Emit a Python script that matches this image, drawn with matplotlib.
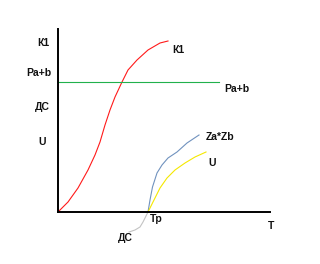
import matplotlib
matplotlib.use("Agg")
import matplotlib.pyplot as plt

# Curves (x = T offset, y = value)
k1_x = [0, 10, 20, 30, 37, 42, 47, 52, 57, 64, 70, 79, 90, 102, 110]
k1_y = [0, 10, 24, 42, 57, 70, 87, 102, 115, 130, 142, 152, 162, 169, 171]

pab_x = [0, 161]
pab_y = [130, 130]

zab_x = [90, 92, 94.5, 99, 104, 110, 119, 129, 141]
zab_y = [0, 12, 25, 39, 47, 54, 60, 69, 77]

u_x = [90, 95, 102, 109, 117, 127, 137, 148]
u_y = [0, 10, 24, 34, 42, 49, 55, 60]

dc_x = [90, 85, 82, 77, 71]
dc_y = [0, -10, -15, -18, -20]

left_labels = ["К1", "Pa+b", "ДС", "U"]
left_label_pos = [(-21, 169), (-32, 139), (-23, 105), (-20, 70)]

curve_labels = ["К1", "Pa+b", "Za*Zb", "U", "Tp", "ДС", "T"]
curve_label_pos = [(114, 162), (166, 123), (148, 75), (150, 49), (92, -7), (60, -26), (210, -14)]

W, H = 320, 264
fig = plt.figure(figsize=(W / 100, H / 100), dpi=100)
fig.patch.set_facecolor("white")
x0, x1, ytop, ybot = 58, 270, 29, 212
ax = fig.add_axes([x0 / W, (H - ybot) / H, (x1 - x0) / W, (ybot - ytop) / H])
ax.set_xlim(0, x1 - x0)
ax.set_ylim(0, ybot - ytop)
for s in ["top", "right"]:
    ax.spines[s].set_visible(False)
for s in ["left", "bottom"]:
    ax.spines[s].set_linewidth(1.4)
    ax.spines[s].set_color("black")
ax.set_xticks([])
ax.set_yticks([])
ax.patch.set_alpha(0)

lw = 0.8
ax.plot(k1_x, k1_y, color="#ff1a1a", lw=lw, clip_on=False)
ax.plot(pab_x, pab_y, color="#22b14c", lw=lw, clip_on=False)
ax.plot(zab_x, zab_y, color="#7092be", lw=lw, clip_on=False)
ax.plot(u_x, u_y, color="#f5e800", lw=lw, clip_on=False)
ax.plot(dc_x, dc_y, color="#c3c3c3", lw=lw, clip_on=False)

fkw = dict(family=["Liberation Sans", "DejaVu Sans"], fontweight="bold", fontsize=7.5,
           va="center", ha="left", clip_on=False, color="#111111")
for t, (x, y) in zip(left_labels, left_label_pos):
    ax.text(x, y, t, **fkw)
for t, (x, y) in zip(curve_labels, curve_label_pos):
    ax.text(x, y, t, **fkw)

fig.savefig("out.png", dpi=100)
